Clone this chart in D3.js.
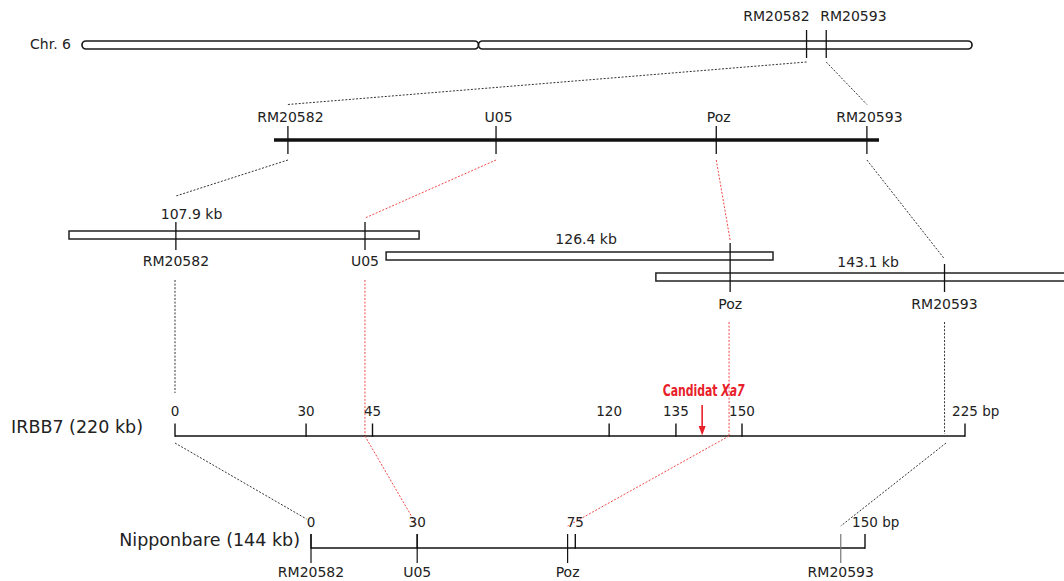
<!DOCTYPE html>
<html><head><meta charset="utf-8">
<script src="https://cdn.jsdelivr.net/npm/d3@7"></script>
<style>
html,body{margin:0;padding:0;background:#fff;}
svg{display:block;font-family:"DejaVu Sans",sans-serif;}
</style></head>
<body>
<svg id="chart" width="1064" height="581"></svg>
<script>
// ---------------- DATA ----------------
const markers = ["RM20582", "U05", "Poz", "RM20593"];
const highlighted = [false, true, true, false];           // red connectors (flanking the candidate)

// chromosome 6 (Mb)
const chrLength = 31.2;
const chrCentromere = 13.9;
const chrMarkers = ["RM20582", "RM20593"];
const chrMarkerMb = [25.40, 26.09];

// genetic map (relative units)
const mapMarkerPos = [2.3, 36.7, 73.1, 98.0];

// BAC clones (contig kb coordinates)
const cloneLabels = ["107.9 kb", "126.4 kb", "143.1 kb"];
const cloneStart = [0, 99.1, 183.4];
const cloneEnd = [109.4, 220.0, 326.5];
const cloneLabelPos = [38.3, 161.6, 249.7];
const contigMarkerPos = [33.4, 92.5, 206.6, 273.6];
const contigMarkerRows = [[0], [0], [1, 2], [2]];          // clones each marker spans

// IRBB7 physical (220 kb)
const irbbTickLabels = ["0", "30", "45", "120", "135", "150", "225"];
const irbbTickKb = [0, 36.5, 55.0, 120.9, 139.5, 157.9, 220];
const irbbMarkerKb = [0, 52.9, 154.3, 214.3];
const candidateKb = 146.8;

// Nipponbare (144 kb)
const nipTickLabels = ["0", "30", "75", "150"];
const nipTickKb = [0, 27.6, 68.7, 144];
const nipMarkerKb = [0, 27.6, 66.7, 137.7];

// ---------------- LAYOUT ----------------
const svg = d3.select("#chart");
const TXT = "#222";
const RED = "#e8202a";
const REDDOT = "#f24848";
const DOT = "#333";

const xChr = d3.scaleLinear().domain([0, chrLength]).range([82, 972]);
const xMap = d3.scaleLinear().domain([0, 100]).range([274, 879]);
const xCtg = d3.scaleLinear().domain([0, 310]).range([69, 1061]);
const xIr = d3.scaleLinear().domain([0, 220]).range([175, 965]);
const xNip = d3.scaleLinear().domain([0, 144]).range([311, 865]);

const yChr = 45, yMap = 140, yIr = 436, yNip = 548;
const cloneY = [235, 256, 277];
const cloneLabelY = [219, 244, 267];

function dotted(x1, y1, x2, y2, red) {
  svg.append("line").attr("x1", x1).attr("y1", y1).attr("x2", x2).attr("y2", y2)
    .attr("stroke", red ? REDDOT : DOT).attr("stroke-width", 1)
    .attr("stroke-dasharray", "2,1.6");
}

// ---------- chromosome ----------
svg.append("text").attr("x", 71).attr("y", 49).attr("text-anchor", "end")
  .attr("font-size", 14).attr("fill", TXT).text("Chr. 6");
[[0, chrCentromere], [chrCentromere, chrLength]].forEach(([a, b]) => {
  svg.append("rect").attr("x", xChr(a)).attr("y", yChr - 4)
    .attr("width", xChr(b) - xChr(a)).attr("height", 8).attr("rx", 4)
    .attr("fill", "#fff").attr("stroke", "#1a1a1a").attr("stroke-width", 1.7);
});
chrMarkers.forEach((m, i) => {
  const x = xChr(chrMarkerMb[i]);
  svg.append("line").attr("x1", x).attr("x2", x).attr("y1", 30).attr("y2", 58)
    .attr("stroke", "#111").attr("stroke-width", 1.3);
  svg.append("text").attr("x", i === 0 ? x + 3 : x - 6).attr("y", 21)
    .attr("text-anchor", i === 0 ? "end" : "start")
    .attr("font-size", 14).attr("fill", TXT).text(m);
});
// chromosome -> map connectors
chrMarkers.forEach((m, i) => {
  const k = markers.indexOf(m);
  dotted(xChr(chrMarkerMb[i]), 62, xMap(mapMarkerPos[k]), 104.5, false);
});

// ---------- genetic map ----------
svg.append("line").attr("x1", xMap.range()[0]).attr("x2", xMap.range()[1])
  .attr("y1", yMap).attr("y2", yMap).attr("stroke", "#111").attr("stroke-width", 3.3);
markers.forEach((m, i) => {
  const x = xMap(mapMarkerPos[i]);
  svg.append("line").attr("x1", x).attr("x2", x).attr("y1", 126).attr("y2", 154)
    .attr("stroke", "#111").attr("stroke-width", 1.3);
  svg.append("text").attr("x", x + 2.5).attr("y", 122).attr("text-anchor", "middle")
    .attr("font-size", 14).attr("fill", TXT).text(m);
});
// map -> contig connectors
const ctgEndY = [196, 218, 240, 259];
markers.forEach((m, i) => {
  dotted(xMap(mapMarkerPos[i]), 160, xCtg(contigMarkerPos[i]), ctgEndY[i], highlighted[i]);
});

// ---------- BAC contig ----------
cloneLabels.forEach((lab, i) => {
  svg.append("rect").attr("x", xCtg(cloneStart[i])).attr("y", cloneY[i] - 4)
    .attr("width", xCtg(cloneEnd[i]) - xCtg(cloneStart[i])).attr("height", 8)
    .attr("fill", "#fff").attr("stroke", "#222").attr("stroke-width", 1.5);
  svg.append("text").attr("x", xCtg(cloneLabelPos[i])).attr("y", cloneLabelY[i])
    .attr("text-anchor", "middle").attr("font-size", 14).attr("fill", TXT).text(lab);
});
const ctgLabelY = [266, 266, 309, 309];
const ctgDropStart = [280, 280, 322, 322];
markers.forEach((m, i) => {
  const x = xCtg(contigMarkerPos[i]);
  const rows = contigMarkerRows[i];
  const y1 = cloneY[d3.min(rows)] - 13, y2 = cloneY[d3.max(rows)] + 15;
  svg.append("line").attr("x1", x).attr("x2", x).attr("y1", y1).attr("y2", y2)
    .attr("stroke", "#111").attr("stroke-width", 1.3);
  svg.append("text").attr("x", x).attr("y", ctgLabelY[i]).attr("text-anchor", "middle")
    .attr("font-size", 14).attr("fill", TXT).text(m);
});

// ---------- IRBB7 axis ----------
svg.append("text").attr("x", 143).attr("y", 433).attr("text-anchor", "end")
  .attr("font-size", 17.5).attr("fill", TXT).text("IRBB7 (220 kb)");

function tickLabel(x, y, label, last, size) {
  const t = svg.append("text").attr("y", y).attr("font-size", size).attr("fill", TXT).text(label);
  const w = t.node().getComputedTextLength();
  t.attr("x", x - w / 2);
  if (last) t.text(label + " bp");
}

// contig -> IRBB7 vertical drops
const irDropEnd = [393, yIr, yIr, 434];
markers.forEach((m, i) => {
  dotted(xIr(irbbMarkerKb[i]), ctgDropStart[i], xIr(irbbMarkerKb[i]), irDropEnd[i], highlighted[i]);
});

svg.append("line").attr("x1", xIr(0)).attr("x2", xIr(220)).attr("y1", yIr).attr("y2", yIr)
  .attr("stroke", "#111").attr("stroke-width", 1.6);
irbbTickKb.forEach((v, i) => {
  const x = xIr(v);
  svg.append("line").attr("x1", x).attr("x2", x).attr("y1", 423.5).attr("y2", yIr + 0.8)
    .attr("stroke", "#111").attr("stroke-width", 1.4);
  tickLabel(x, 416, irbbTickLabels[i], i === irbbTickKb.length - 1, 13.5);
});

// candidate Xa7
const cx = xIr(candidateKb);
const cand = svg.append("text").attr("x", 0).attr("y", 0).attr("text-anchor", "middle")
  .attr("font-family", "'Liberation Sans Narrow','DejaVu Sans Condensed','DejaVu Sans',sans-serif")
  .attr("font-weight", "bold").attr("font-size", 15.5).attr("fill", RED)
  .call(t => {
    t.append("tspan").text("Candidat ");
    t.append("tspan").attr("font-style", "italic").text("Xa7");
  });
const cw = cand.node().getComputedTextLength();
const targetW = 82;
cand.attr("transform", `translate(${cx + 1.5},396) scale(${Math.min(1, targetW / cw)},1)`);
svg.append("line").attr("x1", cx).attr("x2", cx).attr("y1", 405).attr("y2", 428)
  .attr("stroke", RED).attr("stroke-width", 1.6);
svg.append("path").attr("d", d3.line()([[cx - 3.5, 426], [cx + 3.5, 426], [cx, 435.5]]))
  .attr("fill", RED);

// IRBB7 -> Nipponbare connectors
markers.forEach((m, i) => {
  const x1 = xIr(irbbMarkerKb[i]) + (i === 3 ? 1.5 : 0);
  const y1 = highlighted[i] ? yIr : 443;
  dotted(x1, y1, xNip(nipMarkerKb[i]) - (i === 0 ? 4.5 : 0), i === 0 ? 519 : 526, highlighted[i]);
});

// ---------- Nipponbare axis ----------
svg.append("text").attr("x", 300).attr("y", 546).attr("text-anchor", "end")
  .attr("font-size", 17.5).attr("fill", TXT).text("Nipponbare (144 kb)");
svg.append("line").attr("x1", xNip(0)).attr("x2", xNip(144)).attr("y1", yNip).attr("y2", yNip)
  .attr("stroke", "#111").attr("stroke-width", 1.5);
nipTickKb.forEach((v, i) => {
  const x = xNip(v);
  svg.append("line").attr("x1", x).attr("x2", x).attr("y1", 534).attr("y2", yNip + 0.7)
    .attr("stroke", "#111").attr("stroke-width", 1.4);
  tickLabel(x, 527, nipTickLabels[i], i === nipTickKb.length - 1, 13.5);
});
markers.forEach((m, i) => {
  const x = xNip(nipMarkerKb[i]);
  svg.append("line").attr("x1", x).attr("x2", x).attr("y1", 534).attr("y2", 563)
    .attr("stroke", i === 3 ? "#777" : "#111").attr("stroke-width", 1.2);
  svg.append("text").attr("x", x).attr("y", 577).attr("text-anchor", "middle")
    .attr("font-size", 14).attr("fill", TXT).text(m);
});
</script>
</body></html>
